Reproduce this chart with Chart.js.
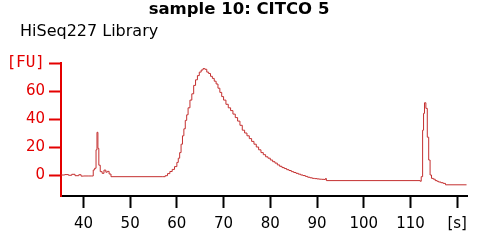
<!DOCTYPE html>
<html>
<head>
<meta charset="utf-8">
<script src="https://cdn.jsdelivr.net/npm/chart.js@4/dist/chart.umd.min.js"></script>
<style>
  html, body { margin: 0; padding: 0; background: #fff; }
  #chart { display: block; }
</style>
</head>
<body>
<canvas id="chart" width="482" height="243"></canvas>
<script>
// electropherogram trace: time [s] and fluorescence [FU]
const times = [
  35.2, 36.0, 36.8, 37.5, 38.2, 39.0, 39.5, 40.0, 41.0, 41.8,
  42.1, 42.4, 42.7, 42.9, 43.1, 43.3, 43.6, 44.0, 44.4, 44.8,
  45.1, 45.5, 45.9, 57.0, 57.5, 58.0, 58.5, 59.0, 59.5, 60.0,
  60.3, 60.6, 60.9, 61.2, 61.5, 61.8, 62.1, 62.4, 62.8, 63.2,
  63.6, 64.0, 64.4, 64.8, 65.2, 65.6, 66.0, 66.4, 66.8, 67.2,
  67.6, 68.0, 68.4, 68.8, 69.2, 69.6, 70.0, 70.5, 71.0, 71.5,
  72.0, 72.5, 73.0, 73.5, 74.0, 74.5, 75.0, 75.5, 76.0, 76.5,
  77.0, 77.5, 78.0, 78.5, 79.0, 79.5, 80.0, 80.5, 81.0, 81.5,
  82.0, 82.5, 83.0, 83.5, 84.0, 84.5, 85.0, 85.5, 86.0, 86.5,
  87.0, 87.5, 88.0, 88.5, 89.0, 89.5, 90.0, 90.5, 91.0, 91.5,
  91.8, 92.0, 112.1, 112.3, 112.6, 112.8, 113.0, 113.3, 113.6, 113.9,
  114.2, 114.5, 114.9, 115.3, 115.7, 116.0, 116.5, 117.0, 117.5, 122.0
];
const fu = [
  0, 0.3, -0.2, 0.5, -0.5, 0.2, -0.8, -0.7, -0.7, -0.7,
  3.6, 4.8, 18, 30.5, 19, 7, 2.4, 1.2, 3.5, 2.0,
  2.6, 0.7, -1.2, -1.2, -0.5, 1, 2.5, 4, 6, 9,
  12, 16, 22, 28, 33, 39, 43, 48, 53.5, 58,
  64, 68, 71, 73.5, 75, 76, 75.5, 73.5, 72.5, 70.5,
  69, 67, 65, 62, 59, 56, 53.5, 50.5, 48, 46,
  43.5, 41, 38.5, 35.5, 32, 30, 28, 26, 24, 22,
  20, 18, 16, 14.5, 13, 12, 10.7, 9.5, 8.5, 7.2,
  6.2, 5.3, 4.6, 3.8, 3.2, 2.4, 1.8, 1.2, 0.6, 0,
  -0.4, -1, -1.6, -2, -2.4, -2.6, -2.8, -3, -3.1, -3.2,
  -2.5, -4, -4.5, -1.2, 32, 44, 51.6, 47.6, 27, 10.7,
  0, -2.4, -3, -4, -4.5, -5, -5.5, -6, -7, -7
];

const xTicks = [40, 50, 60, 70, 80, 90, 100, 110, 120];
const yTicks = [0, 20, 40, 60, 80];
const xUnitLabel = '[s]';
const yUnitLabel = '[FU]';
const titleText = 'sample 10: CITCO 5';
const subtitleText = 'HiSeq227 Library';

const RED = 'rgb(228,0,0)';
const TRACE = 'rgb(196,48,48)';

// title + subtitle drawn by hand so they land where the original puts them
const headerPlugin = {
  id: 'header',
  afterDraw(chart) {
    const ctx = chart.ctx;
    ctx.save();
    ctx.fillStyle = '#000';
    ctx.textBaseline = 'middle';
    ctx.font = 'bold 16.5px "DejaVu Sans"';
    ctx.textAlign = 'center';
    ctx.fillText(titleText, 239, 10);
    ctx.font = '16px "DejaVu Sans"';
    ctx.textAlign = 'left';
    ctx.fillText(subtitleText, 20, 32);
    ctx.restore();
  }
};

new Chart(document.getElementById('chart'), {
  type: 'line',
  data: {
    datasets: [{
      data: times.map((t, i) => ({ x: t, y: fu[i] })),
      borderColor: TRACE,
      borderWidth: 1,
      pointRadius: 0,
      stepped: true,
      fill: false
    }]
  },
  options: {
    responsive: false,
    animation: false,
    devicePixelRatio: 1,
    layout: { padding: { top: 63, right: 15, left: 0, bottom: 0 } },
    plugins: {
      legend: { display: false },
      tooltip: { enabled: false },
      title: { display: false }
    },
    scales: {
      x: {
        type: 'linear',
        min: 35.2,
        max: 122.1,
        afterBuildTicks: s => { s.ticks = xTicks.map(v => ({ value: v })); },
        afterFit: s => { s.height = 47; },
        ticks: {
          autoSkip: false,
          maxRotation: 0,
          color: '#000',
          padding: 7,
          font: { family: 'DejaVu Sans', size: 15 },
          callback: v => v === 120 ? xUnitLabel : String(v)
        },
        grid: { drawOnChartArea: false, drawTicks: true, tickLength: 12, tickWidth: 2, tickColor: '#000' },
        border: { color: '#000', width: 2 }
      },
      y: {
        type: 'linear',
        min: -15,
        max: 80,
        afterBuildTicks: s => { s.ticks = yTicks.map(v => ({ value: v })); },
        afterFit: s => { s.width = 61; },
        ticks: {
          autoSkip: false,
          color: RED,
          padding: 4,
          font: c => c.tick && c.tick.value === 80
            ? { family: 'DejaVu Sans Mono', size: 16 }
            : { family: 'DejaVu Sans', size: 15 },
          callback: v => v === 80 ? yUnitLabel : String(v)
        },
        grid: { drawOnChartArea: false, drawTicks: true, tickLength: 12, tickWidth: 2, tickColor: RED },
        border: { color: RED, width: 2 }
      }
    }
  },
  plugins: [headerPlugin]
});
</script>
</body>
</html>
